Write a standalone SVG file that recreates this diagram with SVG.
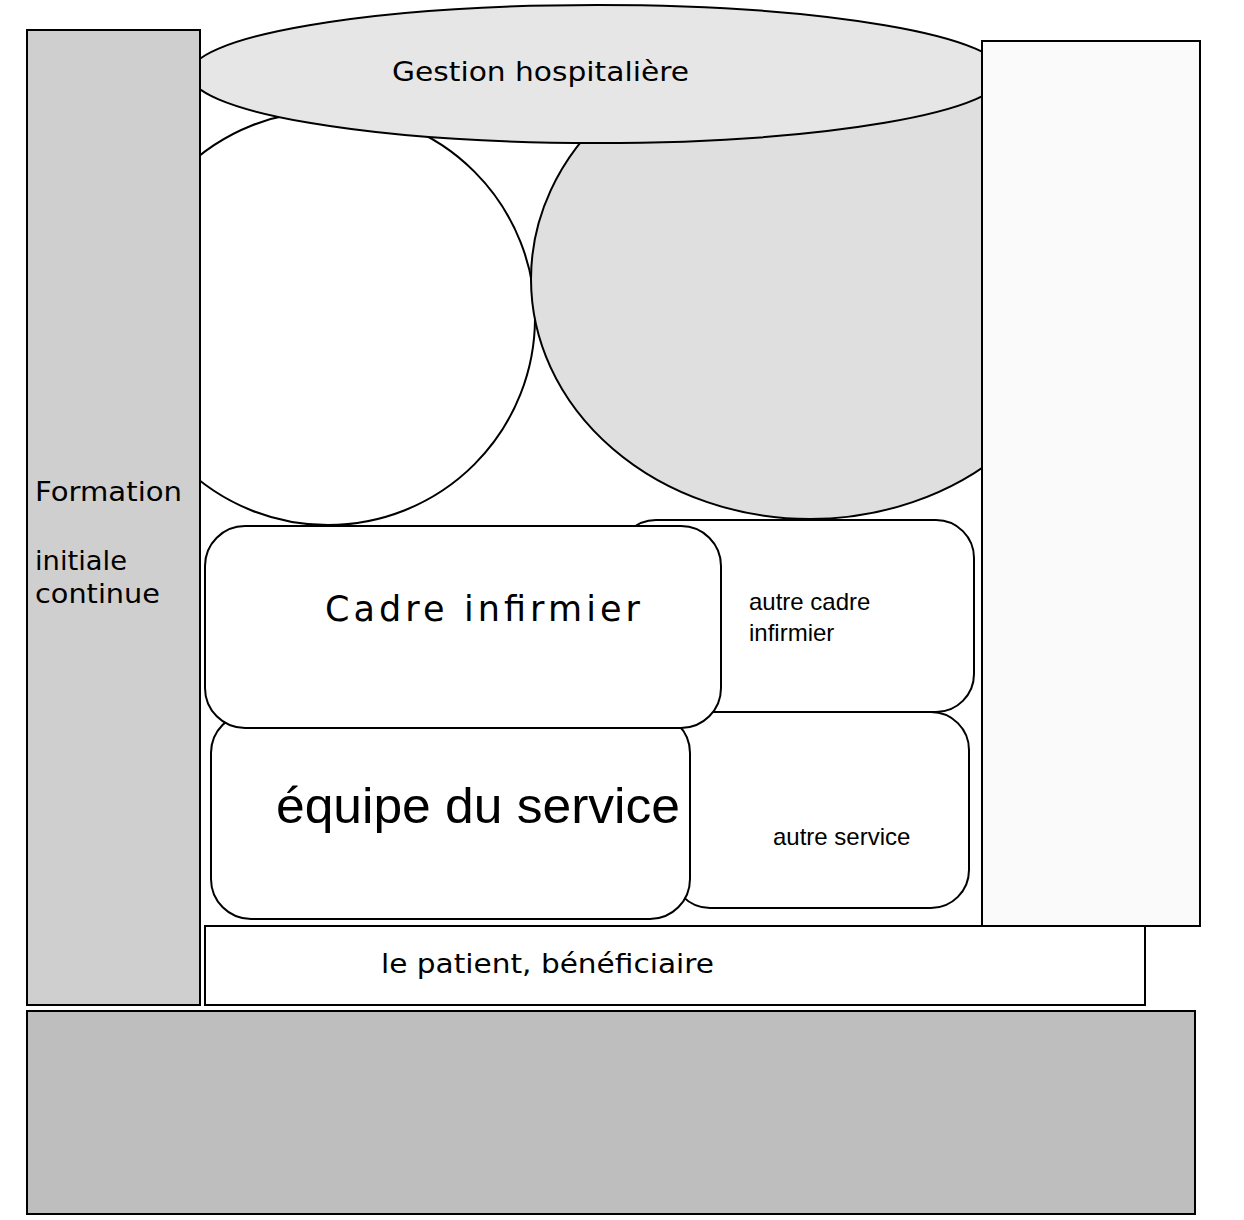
<svg xmlns="http://www.w3.org/2000/svg" width="1244" height="1220" viewBox="0 0 1244 1220">
  <style>
    .edge { stroke: #000; stroke-width: 2; }
    .thin { stroke: #000; stroke-width: 2; }
    .lucida { font-family: "DejaVu Sans", "Noto Sans", sans-serif; fill: #000; }
    .arial { font-family: "Liberation Sans", Arial, sans-serif; fill: #000; }
  </style>
  <rect x="0" y="0" width="1244" height="1220" fill="#ffffff"/>

  <!-- background circles -->
  <g id="circle-left">
    <circle cx="328" cy="318" r="207" fill="#ffffff" class="thin"/>
  </g>
  <g id="circle-right">
    <ellipse cx="810" cy="279" rx="279" ry="240" fill="#dfdfdf" class="thin"/>
  </g>

  <!-- top ellipse -->
  <g id="gestion">
    <ellipse cx="597" cy="74" rx="407" ry="69" fill="#e6e6e6" class="thin"/>
    <text x="392" y="81" class="lucida" font-size="27" textLength="297" lengthAdjust="spacingAndGlyphs">Gestion hospitalière</text>
  </g>

  <!-- side columns -->
  <g id="formation">
    <rect x="27" y="30" width="173" height="975" fill="#cfcfcf" class="edge"/>
    <text x="35" y="501" class="lucida" font-size="27" textLength="147" lengthAdjust="spacingAndGlyphs">Formation</text>
    <text x="35" y="570" class="lucida" font-size="27" textLength="92" lengthAdjust="spacingAndGlyphs">initiale</text>
    <text x="35" y="603" class="lucida" font-size="27" textLength="125" lengthAdjust="spacingAndGlyphs">continue</text>
  </g>
  <g id="right-column">
    <rect x="982" y="41" width="218" height="885" fill="#fafafa" class="edge"/>
  </g>

  <!-- rounded boxes -->
  <g id="autre-cadre">
    <rect x="618" y="520" width="356" height="192" rx="38" ry="38" fill="#ffffff" class="edge"/>
    <text x="749" y="610" class="arial" font-size="24">autre cadre</text>
    <text x="749" y="641" class="arial" font-size="24">infirmier</text>
  </g>
  <g id="autre-service">
    <rect x="672" y="712" width="297" height="196" rx="38" ry="38" fill="#ffffff" class="edge"/>
    <text x="773" y="845" class="arial" font-size="24">autre service</text>
  </g>
  <g id="equipe">
    <rect x="211" y="713" width="479" height="206" rx="40" ry="40" fill="#ffffff" class="edge"/>
    <text x="276" y="823" class="arial" font-size="50" textLength="404" lengthAdjust="spacingAndGlyphs">équipe du service</text>
  </g>
  <g id="cadre">
    <rect x="205" y="526" width="516" height="202" rx="40" ry="40" fill="#ffffff" class="edge"/>
    <text x="325" y="621" class="lucida" font-size="35" textLength="315" lengthAdjust="spacing">Cadre infirmier</text>
  </g>

  <!-- bottom bands -->
  <g id="patient">
    <rect x="205" y="926" width="940" height="79" fill="#ffffff" class="edge"/>
    <text x="381" y="973" class="lucida" font-size="26" textLength="333" lengthAdjust="spacingAndGlyphs">le patient, bénéficiaire</text>
  </g>
  <g id="base">
    <rect x="27" y="1011" width="1168" height="203" fill="#bebebe" class="edge"/>
  </g>

  <g id="connectors"/>
</svg>
